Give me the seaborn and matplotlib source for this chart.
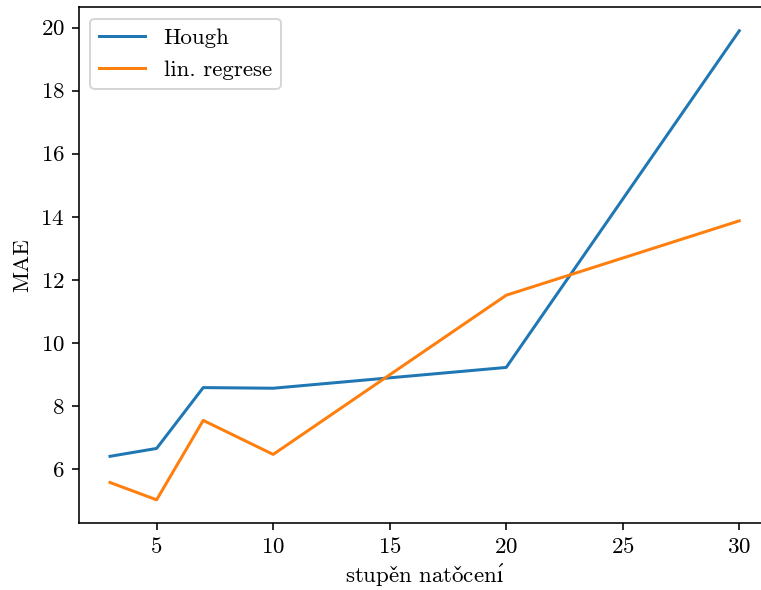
import matplotlib
matplotlib.use("Agg")
import matplotlib.pyplot as plt
import seaborn as sns
import pandas as pd

# Rotation degree vs. mean absolute error for both estimation methods
degrees = [3, 5, 7, 10, 20, 30]
mae_hough = [6.40, 6.65, 8.58, 8.56, 9.22, 19.90]
mae_linreg = [5.57, 5.02, 7.54, 6.46, 11.51, 13.87]
series_names = ["Hough", "lin. regrese"]
colors = ["#1f77b4", "#ff7f0e"]

plt.rcParams["font.family"] = ["cmr10", "DejaVu Serif"]
plt.rcParams["font.size"] = 11.5
plt.rcParams["axes.formatter.use_mathtext"] = True
plt.rcParams["mathtext.fontset"] = "cm"

df = pd.DataFrame({
    "stupen": degrees * 2,
    "MAE": mae_hough + mae_linreg,
    "metoda": [series_names[0]] * len(degrees) + [series_names[1]] * len(degrees),
})

fig = plt.figure(figsize=(761 / 144, 590 / 144), dpi=144)
ax = fig.add_axes([0.1032, 0.1131, 0.9096, 0.8745])

sns.lineplot(data=df, x="stupen", y="MAE", hue="metoda",
             palette=colors, hue_order=series_names, ax=ax, linewidth=1.5)

# Czech accented letters typeset with Computer Modern accents
ax.set_xlabel(r"$\mathrm{stupe\check{n}\ nato\check{c}en\acute{ı}}$", labelpad=2.5)
ax.set_ylabel("MAE")
ax.set_xticks([5, 10, 15, 20, 25, 30])
ax.set_yticks([6, 8, 10, 12, 14, 16, 18, 20])

handles, labels = ax.get_legend_handles_labels()
ax.legend(handles, labels, loc="upper left")

fig.savefig("out.png", dpi=144)
